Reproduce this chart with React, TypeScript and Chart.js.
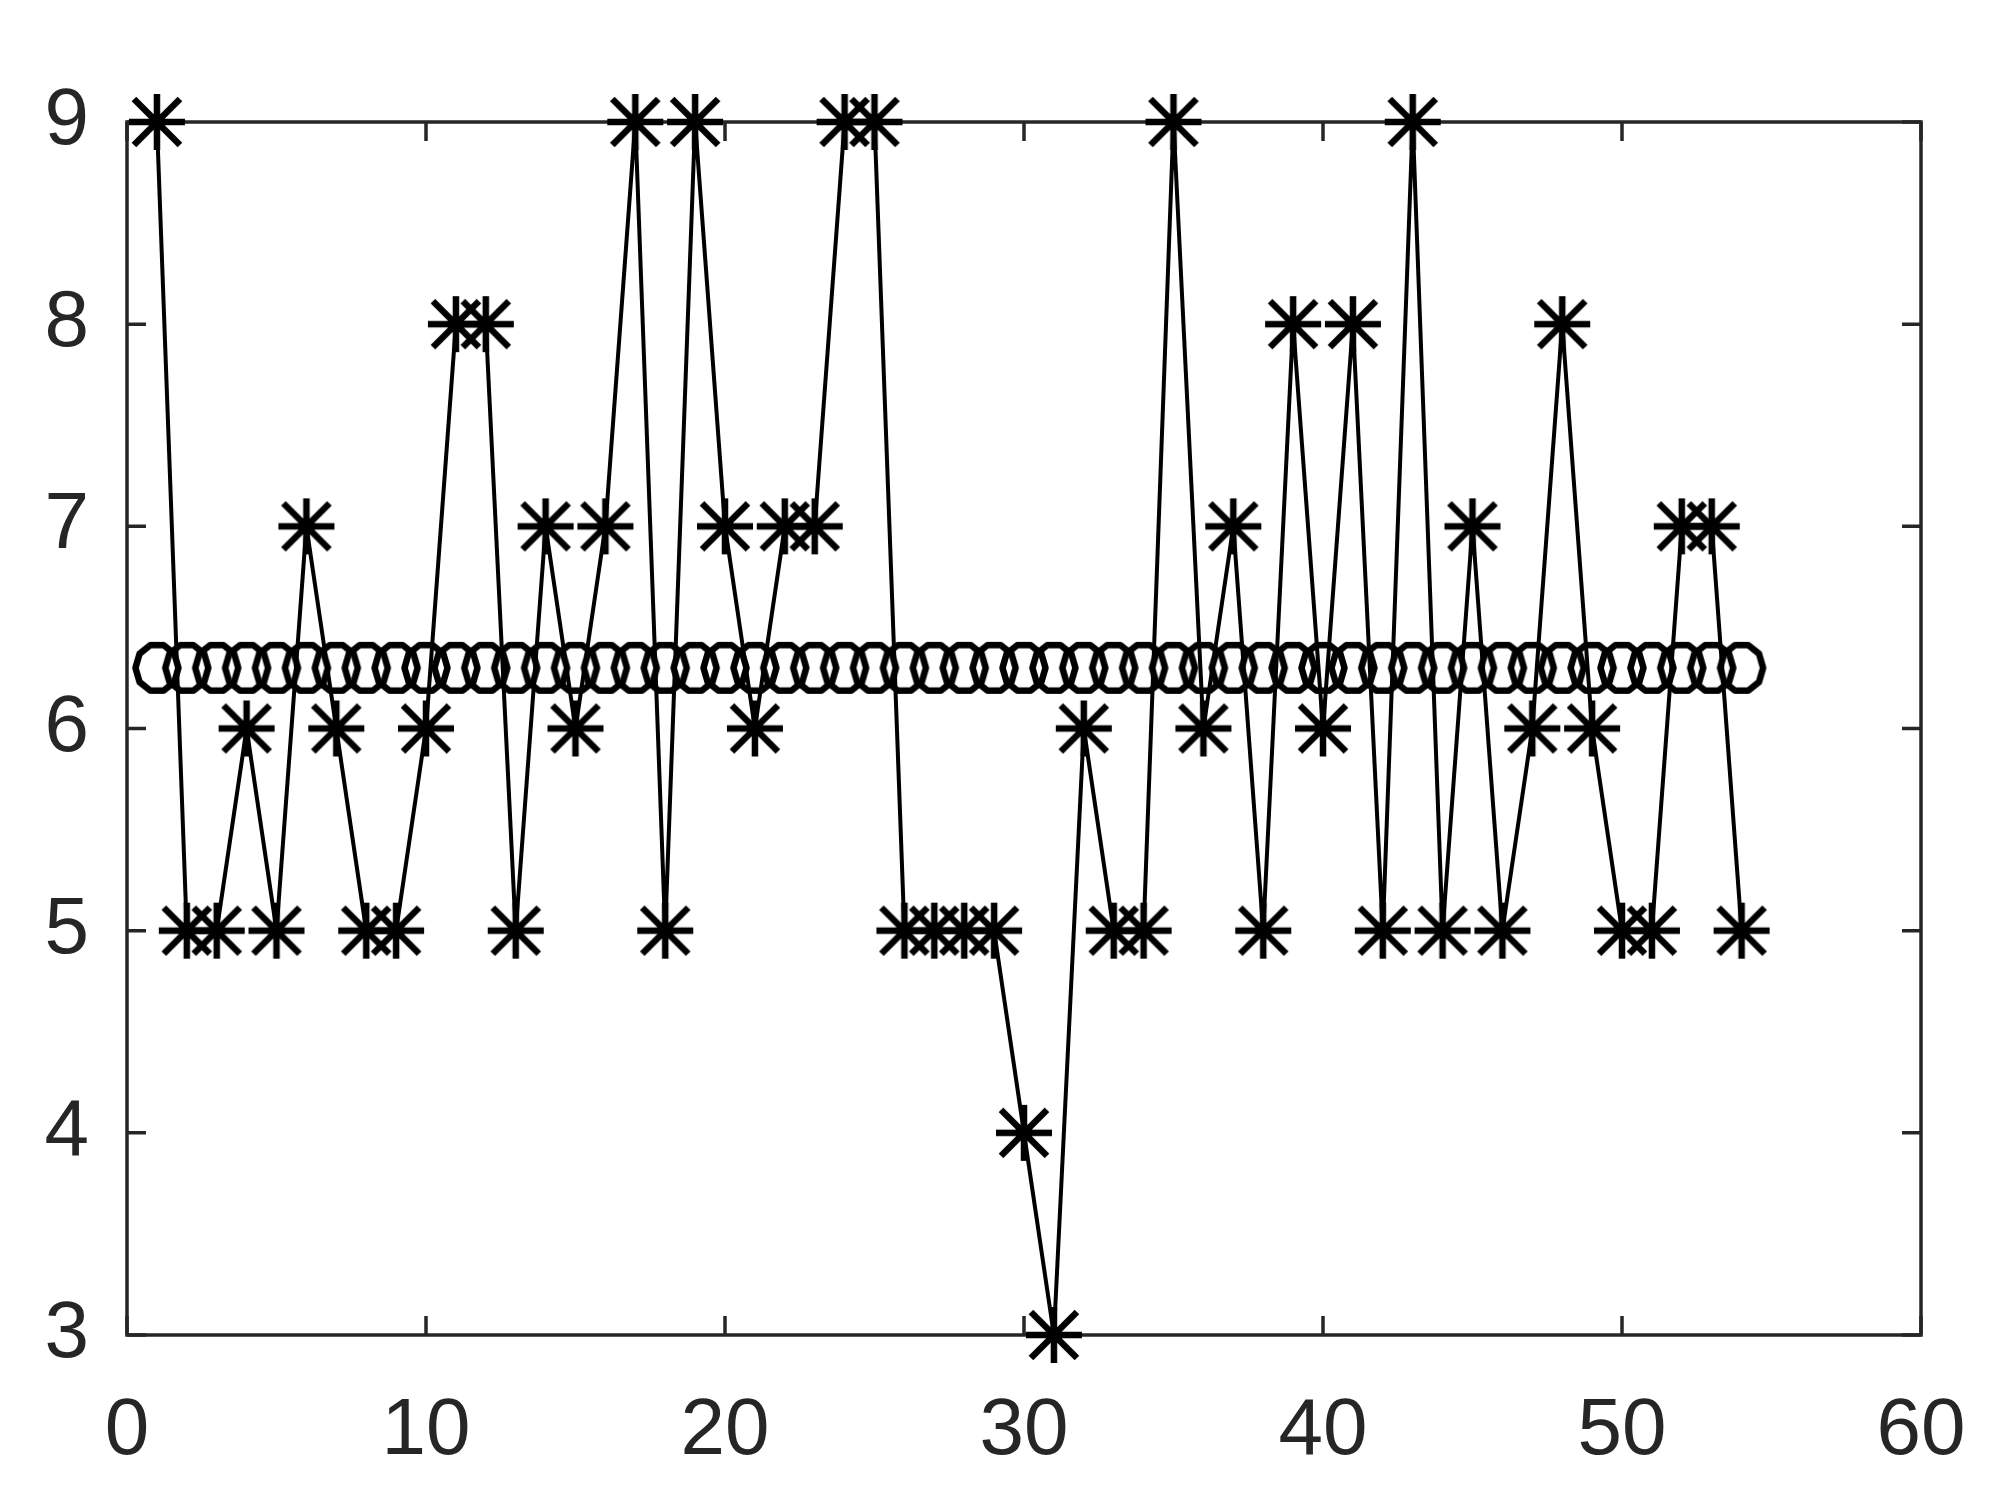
import React, { useEffect, useRef } from "react";
import { Chart, registerables } from "chart.js";

Chart.register(...registerables);

const xValues = [
  1, 2, 3, 4, 5, 6, 7, 8, 9, 10, 11, 12, 13, 14, 15, 16, 17, 18,
  19, 20, 21, 22, 23, 24, 25, 26, 27, 28, 29, 30, 31, 32, 33, 34, 35, 36,
  37, 38, 39, 40, 41, 42, 43, 44, 45, 46, 47, 48, 49, 50, 51, 52, 53, 54,
];

const starValues = [
  9, 5, 5, 6, 5, 7, 6, 5, 5, 6, 8, 8, 5, 7, 6, 7, 9, 5,
  9, 7, 6, 7, 7, 9, 9, 5, 5, 5, 5, 4, 3, 6, 5, 5, 9, 6,
  7, 5, 8, 6, 8, 5, 9, 5, 7, 5, 6, 8, 6, 5, 5, 7, 7, 5,
];

const meanValues = [
  6.3, 6.3, 6.3, 6.3, 6.3, 6.3, 6.3, 6.3, 6.3, 6.3, 6.3, 6.3, 6.3, 6.3, 6.3, 6.3, 6.3, 6.3,
  6.3, 6.3, 6.3, 6.3, 6.3, 6.3, 6.3, 6.3, 6.3, 6.3, 6.3, 6.3, 6.3, 6.3, 6.3, 6.3, 6.3, 6.3,
  6.3, 6.3, 6.3, 6.3, 6.3, 6.3, 6.3, 6.3, 6.3, 6.3, 6.3, 6.3, 6.3, 6.3, 6.3, 6.3, 6.3, 6.3,
];

const xTicks = [0, 10, 20, 30, 40, 50, 60];
const yTicks = [3, 4, 5, 6, 7, 8, 9];

const AXIS_COLOR = "#262626";

function makeStar(): HTMLCanvasElement {
  const c = document.createElement("canvas");
  c.width = 68;
  c.height = 68;
  const g = c.getContext("2d")!;
  const cx = 34, cy = 34;
  g.strokeStyle = "#000";
  g.lineWidth = 6.5;
  g.lineCap = "butt";
  g.beginPath();
  g.moveTo(cx - 28, cy); g.lineTo(cx + 28, cy);
  g.moveTo(cx, cy - 28); g.lineTo(cx, cy + 28);
  g.moveTo(cx - 23, cy - 23); g.lineTo(cx + 23, cy + 23);
  g.moveTo(cx - 23, cy + 23); g.lineTo(cx + 23, cy - 23);
  g.stroke();
  return c;
}

function makeRing(): HTMLCanvasElement {
  const c = document.createElement("canvas");
  c.width = 60;
  c.height = 64;
  const g = c.getContext("2d")!;
  const cx = 30, cy = 32, rx = 21.5, ry = 24;
  g.strokeStyle = "#000";
  g.lineWidth = 6.5;
  g.lineJoin = "round";
  g.beginPath();
  const n = 10;
  for (let i = 0; i <= n; i++) {
    const a = (i / n) * Math.PI * 2;
    const px = cx + rx * Math.cos(a);
    const py = cy + ry * Math.sin(a);
    if (i === 0) g.moveTo(px, py);
    else g.lineTo(px, py);
  }
  g.closePath();
  g.stroke();
  return c;
}

const boxPlugin = {
  id: "matlabBox",
  beforeDatasetsDraw(chart: any) {
    const { ctx, chartArea: a, scales } = chart;
    ctx.save();
    ctx.strokeStyle = AXIS_COLOR;
    ctx.lineWidth = 3.5;
    ctx.strokeRect(a.left, a.top, a.right - a.left, a.bottom - a.top);
    const L = 19;
    ctx.beginPath();
    xTicks.forEach((v) => {
      const px = scales.x.getPixelForValue(v);
      ctx.moveTo(px, a.bottom);
      ctx.lineTo(px, a.bottom - L);
      ctx.moveTo(px, a.top);
      ctx.lineTo(px, a.top + L);
    });
    yTicks.forEach((v) => {
      const py = scales.y.getPixelForValue(v);
      ctx.moveTo(a.left, py);
      ctx.lineTo(a.left + L, py);
      ctx.moveTo(a.right, py);
      ctx.lineTo(a.right - L, py);
    });
    ctx.stroke();
    ctx.restore();
  },
};

export default function App() {
  const ref = useRef<HTMLCanvasElement | null>(null);

  useEffect(() => {
    if (!ref.current) return;
    const star = makeStar();
    const ring = makeRing();
    const font = { family: "'Liberation Sans', Arial, sans-serif", size: 80 };
    const chart = new Chart(ref.current, {
      type: "scatter",
      data: {
        datasets: [
          {
            label: "mean",
            data: xValues.map((x, i) => ({ x, y: meanValues[i] })),
            showLine: false,
            pointStyle: ring as any,
            pointRadius: 20,
            borderColor: "#000",
            backgroundColor: "#000",
            clip: false as any,
          },
          {
            label: "values",
            data: xValues.map((x, i) => ({ x, y: starValues[i] })),
            showLine: true,
            borderColor: "#000",
            borderWidth: 4,
            pointStyle: star as any,
            pointRadius: 20,
            backgroundColor: "#000",
            tension: 0,
            clip: false as any,
          },
        ],
      },
      options: {
        responsive: false,
        animation: false,
        events: [],
        layout: { padding: { left: 0, top: 122, right: 79, bottom: 0 } },
        plugins: {
          legend: { display: false },
          tooltip: { enabled: false },
        },
        scales: {
          x: {
            type: "linear",
            min: 0,
            max: 60,
            grid: { display: false },
            border: { display: false },
            afterBuildTicks: (s: any) => {
              s.ticks = xTicks.map((v) => ({ value: v }));
            },
            afterFit: (s: any) => {
              s.height = 169;
              s.paddingLeft = 0;
              s.paddingRight = 0;
            },
            ticks: {
              autoSkip: false,
              maxRotation: 0,
              minRotation: 0,
              color: AXIS_COLOR,
              font,
              padding: 41,
            },
          },
          y: {
            type: "linear",
            min: 3,
            max: 9,
            grid: { display: false },
            border: { display: false },
            afterBuildTicks: (s: any) => {
              s.ticks = yTicks.map((v) => ({ value: v }));
            },
            afterFit: (s: any) => {
              s.width = 127;
              s.paddingTop = 0;
              s.paddingBottom = 0;
            },
            ticks: {
              autoSkip: false,
              color: AXIS_COLOR,
              font,
              padding: 30,
            },
          },
        },
      },
      plugins: [boxPlugin],
    });
    return () => chart.destroy();
  }, []);

  return (
    <div style={{ position: "fixed", left: 0, top: 0, width: 2000, height: 1504, background: "#fff" }}>
      <canvas ref={ref} width={2000} height={1504} style={{ width: 2000, height: 1504, display: "block" }} />
    </div>
  );
}
